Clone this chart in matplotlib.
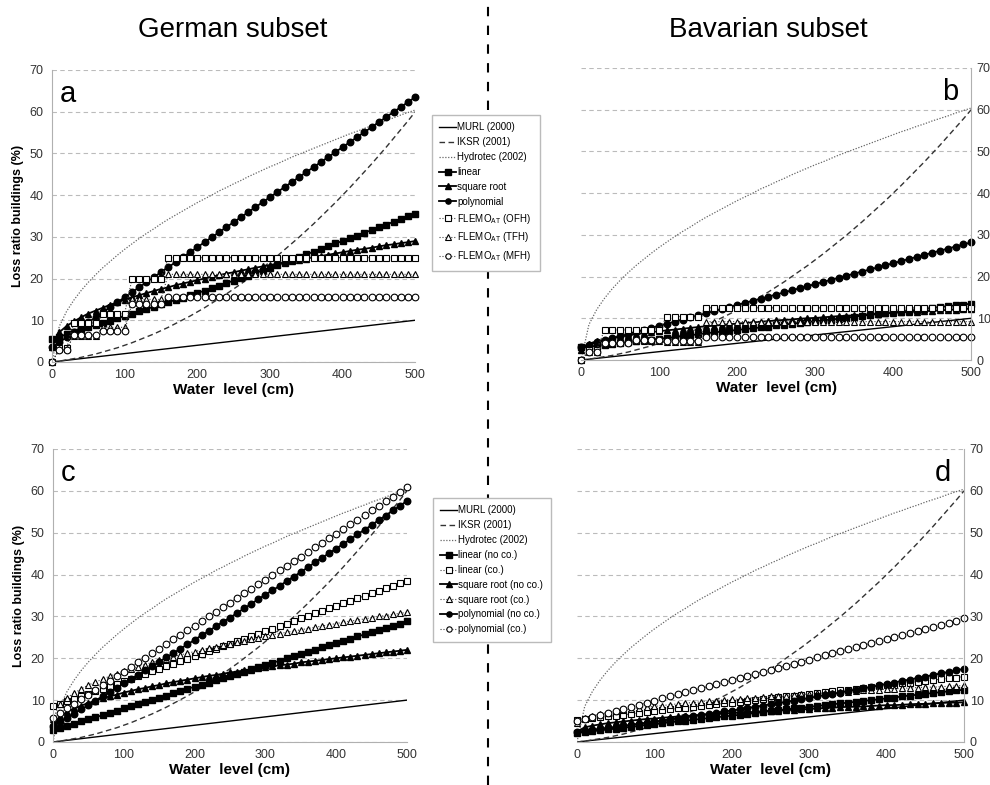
import numpy as np
import matplotlib.pyplot as plt
from matplotlib.lines import Line2D

plt.rcParams['font.family'] = ['Liberation Sans', 'DejaVu Sans']
plt.rcParams['mathtext.fontset'] = 'custom'
plt.rcParams['mathtext.rm'] = 'Liberation Sans'

# water level steps in cm (one point every 10 cm)
depth = np.arange(0, 510, 10)

# reference loss functions (same in every panel)
murl = [0.0, 0.2, 0.4, 0.6, 0.8, 1.0, 1.2, 1.4, 1.6, 1.8, 2.0, 2.2, 2.4, 2.6, 2.8, 3.0, 3.2,
        3.4, 3.6, 3.8, 4.0, 4.2, 4.4, 4.6, 4.8, 5.0, 5.2, 5.4, 5.6, 5.8, 6.0, 6.2, 6.4, 6.6,
        6.8, 7.0, 7.2, 7.4, 7.6, 7.8, 8.0, 8.2, 8.4, 8.6, 8.8, 9.0, 9.2, 9.4, 9.6, 9.8, 10.0]
iksr = [0.0, 0.2, 0.5, 0.8, 1.1, 1.5, 1.9, 2.4, 2.9, 3.4, 4.0, 4.6, 5.3, 6.0, 6.7, 7.5, 8.3,
        9.2, 10.1, 11.0, 12.0, 13.0, 14.1, 15.2, 16.3, 17.5, 18.7, 20.0, 21.3, 22.6, 24.0,
        25.4, 26.9, 28.4, 29.9, 31.5, 33.1, 34.8, 36.5, 38.2, 40.0, 41.8, 43.7, 45.6, 47.5,
        49.5, 51.5, 53.6, 55.7, 57.8, 60.0]
hydrotec = [0.0, 8.5, 12.1, 14.8, 17.1, 19.1, 20.9, 22.6, 24.1, 25.6, 27.0, 28.3, 29.6, 30.8,
            31.9, 33.1, 34.2, 35.2, 36.2, 37.2, 38.2, 39.1, 40.0, 41.0, 41.8, 42.7, 43.5,
            44.4, 45.2, 46.0, 46.8, 47.5, 48.3, 49.1, 49.8, 50.5, 51.2, 51.9, 52.6, 53.3,
            54.0, 54.7, 55.3, 56.0, 56.6, 57.3, 57.9, 58.5, 59.2, 59.8, 60.4]

# panel a: German subset, model types and FLEMO-AT building types
lin_a = [5.5, 6.1, 6.6, 7.2, 7.7, 8.3, 8.8, 9.4, 9.9, 10.5, 11.0, 11.6, 12.1, 12.7, 13.2, 13.8,
         14.3, 14.9, 15.4, 16.0, 16.5, 17.1, 17.7, 18.3, 18.9, 19.5, 20.1, 20.7, 21.3, 21.9,
         22.5, 23.2, 23.8, 24.5, 25.1, 25.8, 26.4, 27.1, 27.7, 28.4, 29.0, 29.7, 30.3, 31.0,
         31.6, 32.3, 32.9, 33.6, 34.2, 34.9, 35.5]
sqrt_a = [3.5, 7.1, 8.6, 9.7, 10.7, 11.6, 12.3, 13.0, 13.7, 14.3, 14.9, 15.5, 16.0, 16.5, 17.0,
          17.5, 17.9, 18.4, 18.8, 19.2, 19.6, 20.0, 20.4, 20.8, 21.2, 21.5, 21.9, 22.2, 22.6,
          22.9, 23.2, 23.6, 23.9, 24.2, 24.5, 24.8, 25.1, 25.4, 25.7, 26.0, 26.3, 26.6, 26.9,
          27.1, 27.4, 27.7, 28.0, 28.2, 28.5, 28.7, 29.0]
poly_a = [3.5, 4.7, 5.9, 7.1, 8.3, 9.5, 10.7, 11.9, 13.1, 14.3, 15.5, 16.7, 17.9, 19.1, 20.3,
          21.5, 22.7, 23.9, 25.1, 26.3, 27.5, 28.7, 29.9, 31.1, 32.3, 33.5, 34.7, 35.9, 37.1,
          38.3, 39.5, 40.7, 41.9, 43.1, 44.3, 45.5, 46.7, 47.9, 49.1, 50.3, 51.5, 52.7, 53.9,
          55.1, 56.3, 57.5, 58.7, 59.9, 61.1, 62.3, 63.5]
ofh_a = [0.0, 3.3, 3.3, 9.3, 9.3, 9.3, 9.3, 11.6, 11.6, 11.6, 11.6,
         19.8, 19.8, 19.8, 19.8, 19.8] + [25.0] * 35
tfh_a = [0.0, 3.0, 3.0, 6.3, 6.3, 6.3, 6.3, 8.3, 8.3, 8.3, 8.3,
         15.0, 15.0, 15.0, 15.0, 15.0] + [21.0] * 35
mfh_a = [0.0, 2.8, 2.8, 6.5, 6.5, 6.5, 6.5, 7.4, 7.4, 7.4, 7.4,
         14.0, 14.0, 14.0, 14.0, 14.0] + [15.6] * 35

# panel b: Bavarian subset
lin_b = [3.0, 3.2, 3.4, 3.6, 3.8, 4.1, 4.3, 4.5, 4.7, 4.9, 5.1, 5.3, 5.5, 5.7, 5.9, 6.2, 6.4,
         6.6, 6.8, 7.0, 7.2, 7.4, 7.6, 7.8, 8.0, 8.3, 8.5, 8.7, 8.9, 9.1, 9.3, 9.5, 9.7, 9.9,
         10.1, 10.4, 10.6, 10.8, 11.0, 11.2, 11.4, 11.6, 11.8, 12.0, 12.2, 12.5, 12.7, 12.9,
         13.1, 13.3, 13.5]
sqrt_b = [2.5, 3.9, 4.5, 4.9, 5.3, 5.6, 5.9, 6.2, 6.4, 6.7, 6.9, 7.1, 7.3, 7.5, 7.7, 7.9, 8.1,
          8.2, 8.4, 8.6, 8.7, 8.9, 9.0, 9.2, 9.3, 9.5, 9.6, 9.7, 9.9, 10.0, 10.1, 10.2, 10.4,
          10.5, 10.6, 10.7, 10.8, 11.0, 11.1, 11.2, 11.3, 11.4, 11.5, 11.6, 11.7, 11.8, 11.9,
          12.0, 12.1, 12.2, 12.3]
poly_b = [3.2, 3.7, 4.2, 4.7, 5.2, 5.7, 6.2, 6.7, 7.2, 7.7, 8.2, 8.7, 9.2, 9.7, 10.2, 10.7,
          11.2, 11.7, 12.2, 12.7, 13.2, 13.7, 14.2, 14.7, 15.2, 15.7, 16.2, 16.7, 17.2, 17.7,
          18.2, 18.7, 19.2, 19.7, 20.2, 20.7, 21.2, 21.7, 22.2, 22.7, 23.2, 23.7, 24.2, 24.7,
          25.2, 25.7, 26.2, 26.7, 27.2, 27.7, 28.2]
ofh_b = [0.0, 2.4, 2.4, 7.2, 7.2, 7.2, 7.2, 7.2, 7.2, 7.2, 7.2,
         10.4, 10.4, 10.4, 10.4, 10.4] + [12.5] * 35
tfh_b = [0.0, 2.0, 2.0, 4.2, 4.2, 4.2, 4.2, 4.6, 4.6, 4.6, 4.6,
         4.4, 4.4, 4.4, 4.4, 4.4] + [9.2] * 35
mfh_b = [0.0, 2.0, 2.0, 4.0, 4.0, 4.0, 4.0, 4.8, 4.8, 4.8, 4.8,
         4.6, 4.6, 4.6, 4.6, 4.6] + [5.5] * 35

# panel c: German subset, without / with contents
lin_nc_c = [2.8, 3.3, 3.8, 4.4, 4.9, 5.4, 5.9, 6.4, 7.0, 7.5, 8.0, 8.5, 9.0, 9.6, 10.1, 10.6,
            11.1, 11.6, 12.2, 12.7, 13.2, 13.7, 14.2, 14.8, 15.3, 15.8, 16.3, 16.8, 17.4,
            17.9, 18.4, 18.9, 19.4, 20.0, 20.5, 21.0, 21.5, 22.0, 22.6, 23.1, 23.6, 24.1,
            24.6, 25.2, 25.7, 26.2, 26.7, 27.2, 27.8, 28.3, 28.8]
lin_co_c = [8.5, 9.1, 9.7, 10.3, 10.9, 11.5, 12.1, 12.7, 13.3, 13.9, 14.5, 15.1, 15.7, 16.3,
            16.9, 17.5, 18.1, 18.7, 19.3, 19.9, 20.5, 21.1, 21.7, 22.3, 22.9, 23.5, 24.1,
            24.7, 25.3, 25.9, 26.5, 27.1, 27.7, 28.3, 28.9, 29.5, 30.1, 30.7, 31.3, 31.9,
            32.5, 33.1, 33.7, 34.3, 34.9, 35.5, 36.1, 36.7, 37.3, 37.9, 38.5]
sqrt_nc_c = [3.5, 6.1, 7.2, 8.0, 8.7, 9.3, 9.9, 10.4, 10.9, 11.3, 11.8, 12.2, 12.6, 12.9, 13.3,
             13.6, 14.0, 14.3, 14.6, 14.9, 15.2, 15.5, 15.8, 16.0, 16.3, 16.6, 16.8, 17.1,
             17.3, 17.6, 17.8, 18.1, 18.3, 18.5, 18.7, 19.0, 19.2, 19.4, 19.6, 19.8, 20.0,
             20.2, 20.4, 20.6, 20.8, 21.0, 21.2, 21.4, 21.6, 21.8, 22.0]
sqrt_co_c = [5.5, 9.1, 10.6, 11.7, 12.7, 13.6, 14.3, 15.0, 15.7, 16.3, 16.9, 17.5, 18.0, 18.5,
             19.0, 19.5, 19.9, 20.4, 20.8, 21.2, 21.6, 22.0, 22.4, 22.8, 23.2, 23.5, 23.9,
             24.2, 24.6, 24.9, 25.2, 25.6, 25.9, 26.2, 26.5, 26.8, 27.1, 27.4, 27.7, 28.0,
             28.3, 28.6, 28.9, 29.1, 29.4, 29.7, 30.0, 30.2, 30.5, 30.7, 31.0]
poly_nc_c = [3.8, 4.8, 5.8, 6.8, 7.8, 8.8, 9.9, 10.9, 11.9, 12.9, 14.0, 15.0, 16.0, 17.1, 18.1,
             19.1, 20.2, 21.2, 22.3, 23.3, 24.4, 25.5, 26.5, 27.6, 28.7, 29.7, 30.8, 31.9,
             33.0, 34.1, 35.2, 36.2, 37.3, 38.4, 39.5, 40.6, 41.7, 42.9, 44.0, 45.1, 46.2,
             47.3, 48.4, 49.6, 50.7, 51.8, 53.0, 54.1, 55.3, 56.4, 57.6]
poly_co_c = [5.8, 6.9, 8.0, 9.1, 10.2, 11.3, 12.4, 13.5, 14.6, 15.7, 16.8, 17.9, 19.0, 20.1,
             21.2, 22.3, 23.4, 24.5, 25.6, 26.7, 27.8, 28.9, 30.0, 31.1, 32.2, 33.3, 34.4,
             35.5, 36.6, 37.7, 38.8, 39.9, 41.0, 42.1, 43.2, 44.3, 45.4, 46.5, 47.6, 48.7,
             49.8, 50.9, 52.0, 53.1, 54.2, 55.3, 56.4, 57.5, 58.6, 59.7, 60.8]

# panel d: Bavarian subset, without / with contents
lin_nc_d = [2.2, 2.4, 2.6, 2.8, 3.0, 3.2, 3.4, 3.6, 3.8, 4.1, 4.3, 4.5, 4.7, 4.9, 5.1, 5.3,
            5.5, 5.7, 5.9, 6.1, 6.3, 6.5, 6.7, 6.9, 7.1, 7.4, 7.6, 7.8, 8.0, 8.2, 8.4, 8.6,
            8.8, 9.0, 9.2, 9.4, 9.6, 9.8, 10.0, 10.2, 10.4, 10.6, 10.9, 11.1, 11.3, 11.5,
            11.7, 11.9, 12.1, 12.3, 12.5]
lin_co_d = [5.3, 5.5, 5.7, 5.9, 6.1, 6.3, 6.5, 6.7, 6.9, 7.2, 7.4, 7.6, 7.8, 8.0, 8.2, 8.4,
            8.6, 8.8, 9.0, 9.2, 9.4, 9.6, 9.8, 10.0, 10.2, 10.5, 10.7, 10.9, 11.1, 11.3, 11.5,
            11.7, 11.9, 12.1, 12.3, 12.5, 12.7, 12.9, 13.1, 13.3, 13.5, 13.7, 14.0, 14.2,
            14.4, 14.6, 14.8, 15.0, 15.2, 15.4, 15.6]
sqrt_nc_d = [2.5, 3.5, 3.9, 4.2, 4.5, 4.7, 4.9, 5.1, 5.3, 5.5, 5.6, 5.8, 5.9, 6.1, 6.2, 6.3,
             6.5, 6.6, 6.7, 6.8, 6.9, 7.0, 7.1, 7.2, 7.3, 7.5, 7.5, 7.6, 7.7, 7.8, 7.9, 8.0,
             8.1, 8.2, 8.3, 8.4, 8.4, 8.5, 8.6, 8.7, 8.8, 8.8, 8.9, 9.0, 9.1, 9.1, 9.2, 9.3,
             9.4, 9.4, 9.5]
sqrt_co_d = [4.5, 5.8, 6.3, 6.7, 7.0, 7.3, 7.6, 7.9, 8.1, 8.3, 8.5, 8.7, 8.9, 9.1, 9.3, 9.4,
             9.6, 9.8, 9.9, 10.1, 10.2, 10.3, 10.5, 10.6, 10.7, 10.9, 11.0, 11.1, 11.2, 11.4,
             11.5, 11.6, 11.7, 11.8, 11.9, 12.0, 12.1, 12.3, 12.4, 12.5, 12.6, 12.7, 12.8,
             12.9, 13.0, 13.1, 13.1, 13.2, 13.3, 13.4, 13.5]
poly_nc_d = [2.5, 2.7, 2.9, 3.2, 3.4, 3.6, 3.9, 4.1, 4.4, 4.6, 4.9, 5.1, 5.4, 5.6, 5.9, 6.2,
             6.4, 6.7, 7.0, 7.3, 7.5, 7.8, 8.1, 8.4, 8.7, 9.0, 9.3, 9.6, 9.9, 10.2, 10.5,
             10.9, 11.2, 11.5, 11.8, 12.2, 12.5, 12.8, 13.2, 13.5, 13.9, 14.2, 14.6, 14.9,
             15.3, 15.6, 16.0, 16.4, 16.7, 17.1, 17.5]
poly_co_d = [5.0, 5.5, 6.0, 6.5, 7.0, 7.5, 7.9, 8.4, 8.9, 9.4, 9.9, 10.4, 10.9, 11.4, 11.9,
             12.4, 12.8, 13.3, 13.8, 14.3, 14.8, 15.3, 15.8, 16.3, 16.8, 17.3, 17.7, 18.2,
             18.7, 19.2, 19.7, 20.2, 20.7, 21.2, 21.7, 22.2, 22.6, 23.1, 23.6, 24.1, 24.6,
             25.1, 25.6, 26.1, 26.6, 27.1, 27.5, 28.0, 28.5, 29.0, 29.5]

labels_top = ['linear', 'square root', 'polynomial',
              r'FLEMO$_{\rm AT}$ (OFH)', r'FLEMO$_{\rm AT}$ (TFH)', r'FLEMO$_{\rm AT}$ (MFH)']
labels_bottom = ['linear (no co.)', 'linear (co.)', 'square root (no co.)',
                 'square root (co.)', 'polynomial (no co.)', 'polynomial (co.)']

solid = dict(color='black', lw=1.3, ms=4.7, mfc='black', mec='black')
dotted = dict(color='#444444', lw=0.8, ls=':', ms=4.8, mfc='white', mec='black', mew=0.8)

fig = plt.figure(figsize=(9.9, 7.85), dpi=100)
ax_a = fig.add_axes([0.0525, 0.5389, 0.367, 0.372])
ax_b = fig.add_axes([0.587, 0.5414, 0.394, 0.372])
ax_c = fig.add_axes([0.0535, 0.0548, 0.3576, 0.3733])
ax_d = fig.add_axes([0.5828, 0.0548, 0.391, 0.3733])


def draw_panel(ax, series, letter, right):
    ax.plot(depth, murl, color='black', lw=1.0, label='MURL (2000)')
    ax.plot(depth, iksr, color='#333333', lw=1.0, ls=(0, (4, 2.5)), label='IKSR (2001)')
    ax.plot(depth, hydrotec, color='#666666', lw=0.9, ls=(0, (1, 1.3)),
            label='Hydrotec (2002)')
    for vals, lab, mk, style in series:
        ax.plot(depth, vals, marker=mk, label=lab, clip_on=False, **style)

    ax.set_xlim(0, 500)
    ax.set_ylim(0, 70)
    ax.set_xticks(range(0, 501, 100))
    ax.set_yticks(range(0, 71, 10))
    ax.grid(axis='y', color='#bbbbbb', ls=(0, (4, 3)), lw=0.8)
    ax.set_axisbelow(True)
    ax.tick_params(length=0, labelsize=9, labelcolor='#333333')
    ax.tick_params(axis='x', pad=5)
    ax.tick_params(axis='y', pad=6)
    ax.spines['top'].set_visible(False)
    for s in ['left', 'right', 'bottom']:
        ax.spines[s].set_color('#b0b0b0')
    ax.set_xlabel('Water  level (cm)', fontsize=11, fontweight='bold')
    ax.xaxis.set_label_coords(0.5, -0.072)
    if right:
        ax.spines['left'].set_visible(False)
        ax.yaxis.tick_right()
        ax.tick_params(axis='y', pad=4)
        ax.text(0.967, 0.89, letter, transform=ax.transAxes, fontsize=21,
                ha='right', va='baseline')
    else:
        ax.spines['right'].set_visible(False)
        ax.set_ylabel('Loss ratio buildings (%)', fontsize=9, fontweight='bold')
        ax.yaxis.set_label_coords(-0.078, 0.5)
        ax.text(0.022, 0.89, letter, transform=ax.transAxes, fontsize=21,
                ha='left', va='baseline')


def top_series(lin, sq, poly, ofh, tfh, mfh):
    return [(lin, labels_top[0], 's', solid), (sq, labels_top[1], '^', solid),
            (poly, labels_top[2], 'o', solid), (ofh, labels_top[3], 's', dotted),
            (tfh, labels_top[4], '^', dotted), (mfh, labels_top[5], 'o', dotted)]


def bottom_series(lnc, lco, snc, sco, pnc, pco):
    return [(lnc, labels_bottom[0], 's', solid), (lco, labels_bottom[1], 's', dotted),
            (snc, labels_bottom[2], '^', solid), (sco, labels_bottom[3], '^', dotted),
            (pnc, labels_bottom[4], 'o', solid), (pco, labels_bottom[5], 'o', dotted)]


draw_panel(ax_a, top_series(lin_a, sqrt_a, poly_a, ofh_a, tfh_a, mfh_a), 'a', False)
draw_panel(ax_b, top_series(lin_b, sqrt_b, poly_b, ofh_b, tfh_b, mfh_b), 'b', True)
draw_panel(ax_c, bottom_series(lin_nc_c, lin_co_c, sqrt_nc_c, sqrt_co_c,
                               poly_nc_c, poly_co_c), 'c', False)
draw_panel(ax_d, bottom_series(lin_nc_d, lin_co_d, sqrt_nc_d, sqrt_co_d,
                               poly_nc_d, poly_co_d), 'd', True)

# dashed divider between the two subsets
fig.add_artist(Line2D([0.493, 0.493], [0, 1], color='black', lw=1.5,
                      ls=(0, (4.5, 4.5))))

fig.text(0.235, 0.962, 'German subset', fontsize=20, ha='center', va='center')
fig.text(0.776, 0.962, 'Bavarian subset', fontsize=20, ha='center', va='center')

leg_kw = dict(loc='upper left', fontsize=7, frameon=True, fancybox=False,
              edgecolor='#bbbbbb', framealpha=1, handlelength=1.7, handletextpad=0.15,
              labelspacing=0.5, borderpad=0.8, borderaxespad=0, markerscale=0.8)
h, l = ax_a.get_legend_handles_labels()
fig.legend(h, l, bbox_to_anchor=(0.436, 0.854), **leg_kw)
h, l = ax_c.get_legend_handles_labels()
fig.legend(h, l, bbox_to_anchor=(0.437, 0.366), **leg_kw)

fig.savefig('out.png', dpi=100)
